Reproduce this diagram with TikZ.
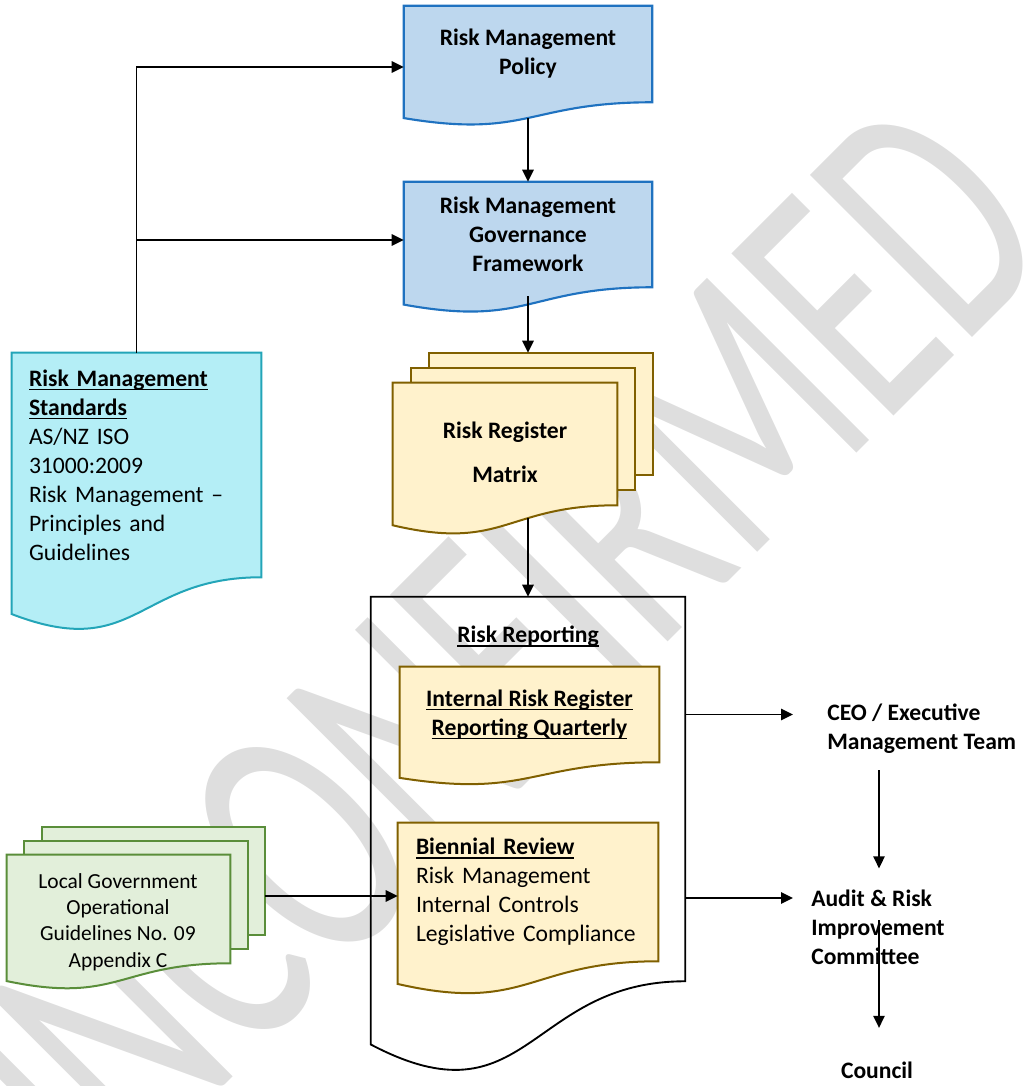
\documentclass[tikz,border=0pt]{standalone}
\usepackage{fontspec}
\setmainfont{Carlito}
\usepackage{graphicx}
\usetikzlibrary{arrows.meta,calc}
\pgfdeclarelayer{wmlayer}
\pgfdeclarelayer{bglayer}
\pgfsetlayers{wmlayer,bglayer,main}
\definecolor{bluefill}{HTML}{BDD7EE}
\definecolor{blueline}{HTML}{1F72C0}
\definecolor{cyanfill}{HTML}{B4EEF6}
\definecolor{cyanline}{HTML}{23A5B8}
\definecolor{yelfill}{HTML}{FFF2CC}
\definecolor{yelline}{HTML}{806000}
\definecolor{grnfill}{HTML}{E2EFDA}
\definecolor{grnline}{HTML}{5A8E3A}
\definecolor{wmgray}{HTML}{DEDEDE}
\newcommand\bodysz{\fontsize{17.7pt}{21.75pt}\selectfont}
\newcommand\smallsz{\fontsize{16.1pt}{19.7pt}\selectfont}
\newcommand\uln[1]{\setbox0\hbox{#1}\rlap{\rule[-3pt]{\wd0}{1.1pt}}\box0}
\newcommand\docshape[4]{\draw[#4] (#1.north west) -- (#1.north east) -- (#1.south east) .. controls (#1.south) and ($(#1.south)+(0,#2)$) .. ($(#1.south west)+(0,#3)$) -- cycle;}
\begin{document}
\begin{tikzpicture}[x=0.75pt,y=-0.75pt,
  arr/.style={-{Triangle[length=9pt,width=8.5pt]}, line width=1.3pt},
  area/.style={inner sep=0pt, draw=none},
  btxt/.style={font=\bodysz\bfseries, align=center},
  rtxt/.style={font=\bodysz, align=left},
  bluedoc/.style={fill=bluefill, draw=blueline, line width=1.6pt},
  cyandoc/.style={fill=cyanfill, draw=cyanline, line width=1.5pt},
  yeldoc/.style={fill=yelfill, draw=yelline, line width=1.5pt},
  grndoc/.style={fill=grnfill, draw=grnline, line width=1.5pt},
  repdoc/.style={draw=black, line width=1.4pt}]
\useasboundingbox (0,0) rectangle (1024,1086);

% watermark
\begin{pgfonlayer}{wmlayer}
\node[inner sep=0pt, text=wmgray, rotate=45, font=\fontsize{268pt}{300pt}\selectfont] (wmark) at (468,680) {\scalebox{0.64}[1]{UNCONFIRMED}};
\end{pgfonlayer}

% shape areas with text
\node[area, btxt, minimum width=186pt, minimum height=72pt] (pol) at (528,54) {Risk Management\\Policy};
\node[area, btxt, minimum width=186pt, minimum height=78.75pt] (fw) at (528,234.5) {Risk Management\\Governance\\Framework};
\node[area, minimum width=168pt, minimum height=91.5pt] (rrb) at (541,414) {};
\node[area, minimum width=168pt, minimum height=91.5pt] (rrm) at (523,429) {};
\node[area, minimum width=168pt, minimum height=91.5pt] (rr) at (505,444) {};
\node[btxt, inner sep=0pt] (rrt) at (505,452) {Risk Register\\[11.25pt]Matrix};
\node[area, rtxt, minimum width=186.75pt, minimum height=168pt, inner xsep=12.75pt, text width=161.25pt] (std) at (136.5,465)
  {\textbf{\uln{Risk Management}}\\\textbf{\uln{Standards}}\\AS/NZ ISO\\31000:2009\\Risk Management --\\Principles and\\Guidelines};
\node[area, minimum width=235.5pt, minimum height=288pt] (rep) at (528,789) {};
\node[inner sep=0pt, anchor=base, font=\bodysz\bfseries] (rtitle) at (528,642.7) {\uln{Risk Reporting}};
\node[area, btxt, minimum width=194.25pt, minimum height=71.25pt] (irr) at (529.5,714.5) {\uln{Internal Risk Register}\\\uln{Reporting Quarterly}};
\node[area, rtxt, minimum width=195pt, minimum height=103.5pt, inner xsep=13.5pt, text width=168pt] (bi) at (528,892)
  {\textbf{\uln{Biennial Review}}\\Risk Management\\Internal Controls\\Legislative Compliance};
\node[area, minimum width=167.25pt, minimum height=81pt] (lgb) at (153.5,881) {};
\node[area, minimum width=167.25pt, minimum height=81pt] (lgm) at (136,895) {};
\node[area, minimum width=167.25pt, minimum height=81pt] (lg) at (118.5,909) {};
\node[inner sep=0pt, font=\smallsz, align=center] (lgt) at (118,922) {Local Government\\Operational\\Guidelines No. 09\\Appendix C};
\node[inner sep=0pt, anchor=west, font=\bodysz\bfseries, align=left] (ceo) at (827,729) {CEO / Executive\\Management Team};
\node[inner sep=0pt, anchor=west, font=\bodysz\bfseries, align=left] (aud) at (811,927) {Audit \& Risk\\Improvement\\Committee};
\node[inner sep=0pt, anchor=base, font=\bodysz\bfseries] (council) at (877,1078) {Council};

% outlines
\begin{pgfonlayer}{bglayer}
\docshape{pol}{36.6}{15.8}{bluedoc}
\docshape{fw}{40}{17.3}{bluedoc}
\draw[yeldoc] (rrb.north west) rectangle (rrb.south east);
\draw[yeldoc] (rrm.north west) rectangle (rrm.south east);
\docshape{rr}{46.4}{20}{yeldoc}
\docshape{std}{85}{36.8}{cyandoc}
\docshape{rep}{146}{63.2}{repdoc}
\docshape{irr}{36}{15.6}{yeldoc}
\docshape{bi}{52.5}{22.7}{yeldoc}
\draw[grndoc] (lgb.north west) rectangle (lgb.south east);
\draw[grndoc] (lgm.north west) rectangle (lgm.south east);
\docshape{lg}{41.2}{17.8}{grndoc}
\end{pgfonlayer}

% connectors
\coordinate (polin) at ($(pol.west)+(0,13)$);
\coordinate (fwin) at ($(fw.west)+(0,5.5)$);
\coordinate (polb) at ($(pol.south)+(0,15.7)$);
\coordinate (fwb) at ($(fw.south)+(0,9)$);
\coordinate (rrout) at ($(rr.south)+(23,13)$);
\coordinate (biin) at ($(bi.west)+(0,4)$);
\coordinate (audy) at ($(bi.east)+(0,6)$);
\coordinate (colx) at (879,0);
\coordinate (audmid) at (colx |- aud.center);
\coordinate (audstart) at ($(audmid)+(0,-7)$);

\draw[arr] (std.north) |- (polin);
\draw[arr] (fwin -| std.north) -- (fwin);
\draw[arr] (polb) -- (fw.north);
\draw[arr] (fwb) -- (fw.south |- rrb.north);
\draw[arr] (rrout) -- (rep.north);
\draw[arr] (biin -| lgb.east) -- (biin);
\draw[arr, shorten >=25.5pt] (irr.east -| rep.east) -- (irr.east -| ceo.west);
\draw[arr, shorten >=13.5pt] (audy -| rep.east) -- (audy -| aud.west);
\draw[arr, shorten <=12pt, shorten >=15.75pt] (colx |- ceo.south) -- (colx |- aud.north);
\draw[arr, shorten >=25pt] (audstart) -- (colx |- council.north);
\end{tikzpicture}
\end{document}
